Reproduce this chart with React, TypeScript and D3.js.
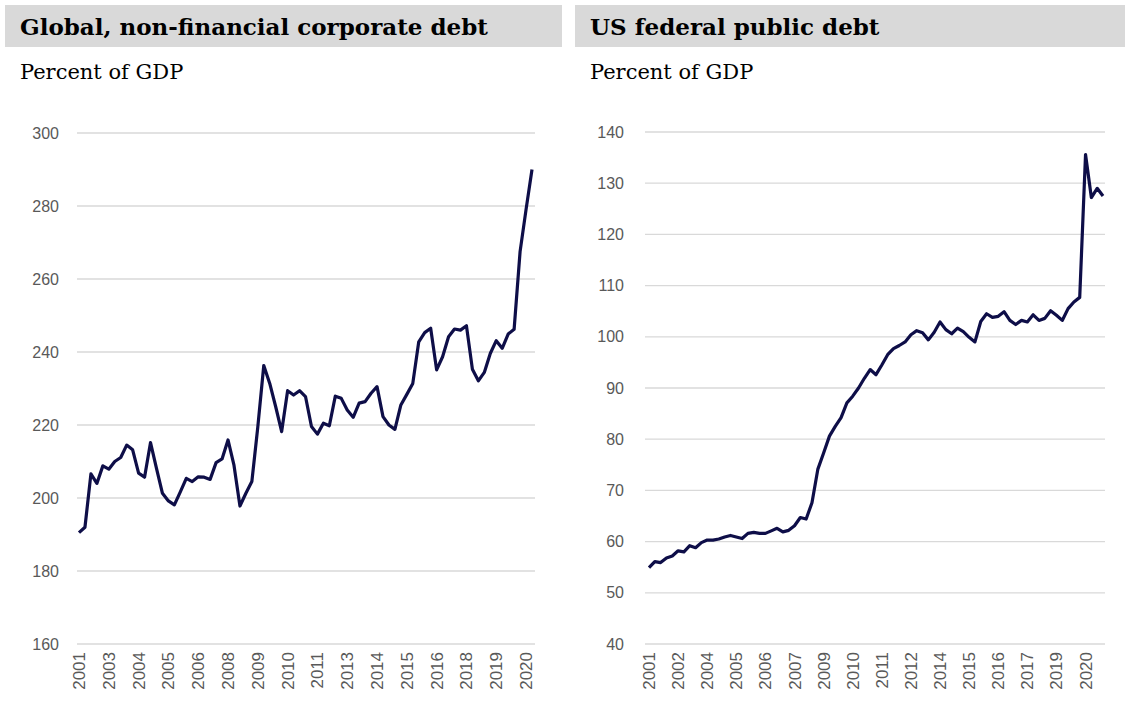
import React from "react";
import * as d3 from "d3";

// ---------- Data ----------
const corpTitle = "Global, non-financial corporate debt";
const usTitle = "US federal public debt";
const subtitle = "Percent of GDP";

// Quarterly, 2001Q4 .. 2020Q4
const corpDebt = [
  190.5, 192, 206.6, 204.0, 208.8, 207.9, 210.0, 211.1, 214.5, 213.2,
  206.8, 205.7, 215.2, 208.1, 201.3, 199.2, 198.1, 201.7, 205.4, 204.5,
  205.8, 205.7, 205.1, 209.7, 210.7, 215.9, 209.0, 197.8, 201.3, 204.5,
  219.5, 236.3, 231.4, 225.0, 218.2, 229.4, 228.2, 229.4, 227.8, 219.6,
  217.5, 220.5, 219.8, 227.9, 227.3, 224.1, 222.1, 226.0, 226.4, 228.7,
  230.5, 222.3, 220.0, 218.8, 225.5, 228.4, 231.4, 242.8, 245.3, 246.5,
  235.1, 238.7, 244.2, 246.3, 246.0, 247.2, 235.3, 232.1, 234.4, 239.6,
  243.1, 241.0, 244.9, 246.2, 267.5, 279.0, 290.0,
];
const corpXLabels = ["2001", "2003", "2004", "2005", "2006", "2008", "2009", "2010",
  "2011", "2013", "2014", "2015", "2016", "2018", "2019", "2020"];
const corpYTicks = [160, 180, 200, 220, 240, 260, 280, 300];

// Quarterly, 2001Q3 .. 2021Q1
const usDebt = [
  54.9, 56.1, 55.9, 56.8, 57.2, 58.2, 58.0, 59.2, 58.8, 59.8,
  60.3, 60.3, 60.5, 60.9, 61.2, 60.9, 60.6, 61.6, 61.8, 61.6,
  61.6, 62.1, 62.6, 61.9, 62.2, 63.1, 64.7, 64.4, 67.6, 74.1,
  77.3, 80.6, 82.5, 84.2, 87.1, 88.4, 90.0, 91.9, 93.6, 92.6,
  94.5, 96.5, 97.7, 98.3, 99.0, 100.4, 101.2, 100.8, 99.4, 100.9,
  102.9, 101.4, 100.6, 101.7, 101.0, 99.9, 99.0, 103.0, 104.5, 103.8,
  104.0, 104.9, 103.2, 102.4, 103.2, 102.9, 104.3, 103.2, 103.6, 105.1,
  104.2, 103.2, 105.5, 106.8, 107.7, 135.6, 127.2, 129.0, 127.5,
];
const usXLabels = ["2001", "2002", "2004", "2005", "2006", "2007", "2009", "2010",
  "2011", "2012", "2014", "2015", "2016", "2017", "2019", "2020"];
const usYTicks = [40, 50, 60, 70, 80, 90, 100, 110, 120, 130, 140];

const labelEvery = 5;

// ---------- Styles ----------
const LINE = "#0e0e48";
const GRID = "#d9d9d9";
const TICK = "#595959";
const BAND = "#d9d9d9";
const SERIF = "'DejaVu Serif', Georgia, serif";
const SANS = "'Liberation Sans', Arial, sans-serif";

type PanelProps = {
  title: string;
  values: number[];
  xLabels: string[];
  yTicks: number[];
  bandX0: number;
  bandX1: number;
  textX: number;
  axisLabelX: number;
  gridX0: number;
  gridX1: number;
  lineX0: number;
  lineX1: number;
  yTop: number;
  yBottom: number;
};

function Panel(p: PanelProps) {
  const idx = p.values.map((_, i) => i);
  const x = d3.scalePoint<number>().domain(idx).range([p.lineX0, p.lineX1]);
  const y = d3
    .scaleLinear()
    .domain([d3.min(p.yTicks)!, d3.max(p.yTicks)!])
    .range([p.yBottom, p.yTop]);
  const line = d3
    .line<number>()
    .x((_, i) => x(i)!)
    .y((d) => y(d));

  return (
    <g>
      <rect x={p.bandX0} y={5} width={p.bandX1 - p.bandX0} height={42} fill={BAND} />
      <text x={p.textX} y={35} fontFamily={SERIF} fontWeight="bold" fontSize={23} fill="#000">
        {p.title}
      </text>
      <text x={p.textX} y={79} fontFamily={SERIF} fontSize={21} fill="#000">
        {subtitle}
      </text>
      {p.yTicks.map((t) => (
        <g key={t}>
          <line x1={p.gridX0} x2={p.gridX1} y1={y(t)} y2={y(t)} stroke={GRID} strokeWidth={1.3} />
          <text
            x={p.axisLabelX}
            y={y(t)}
            dy="0.35em"
            textAnchor="end"
            fontFamily={SANS}
            fontSize={16}
            fill={TICK}
          >
            {t}
          </text>
        </g>
      ))}
      {p.xLabels.map((lab, k) => {
        const xi = x(k * labelEvery)!;
        return (
          <text
            key={k}
            transform={`translate(${xi + 6},${p.yBottom + 8}) rotate(-90)`}
            textAnchor="end"
            fontFamily={SANS}
            fontSize={17}
            fill={TICK}
          >
            {lab}
          </text>
        );
      })}
      <path d={line(p.values)!} fill="none" stroke={LINE} strokeWidth={3.2} strokeLinejoin="round" />
    </g>
  );
}

export default function App() {
  return (
    <svg
      width={1125}
      height={702}
      style={{ position: "absolute", left: 0, top: 0, background: "#fff" }}
    >
      <Panel
        title={corpTitle}
        values={corpDebt}
        xLabels={corpXLabels}
        yTicks={corpYTicks}
        bandX0={5}
        bandX1={562}
        textX={20}
        axisLabelX={59}
        gridX0={77}
        gridX1={535}
        lineX0={79}
        lineX1={532}
        yTop={133}
        yBottom={644}
      />
      <Panel
        title={usTitle}
        values={usDebt}
        xLabels={usXLabels}
        yTicks={usYTicks}
        bandX0={575}
        bandX1={1125}
        textX={590}
        axisLabelX={624}
        gridX0={645}
        gridX1={1105}
        lineX0={649}
        lineX1={1103}
        yTop={132}
        yBottom={644}
      />
    </svg>
  );
}
